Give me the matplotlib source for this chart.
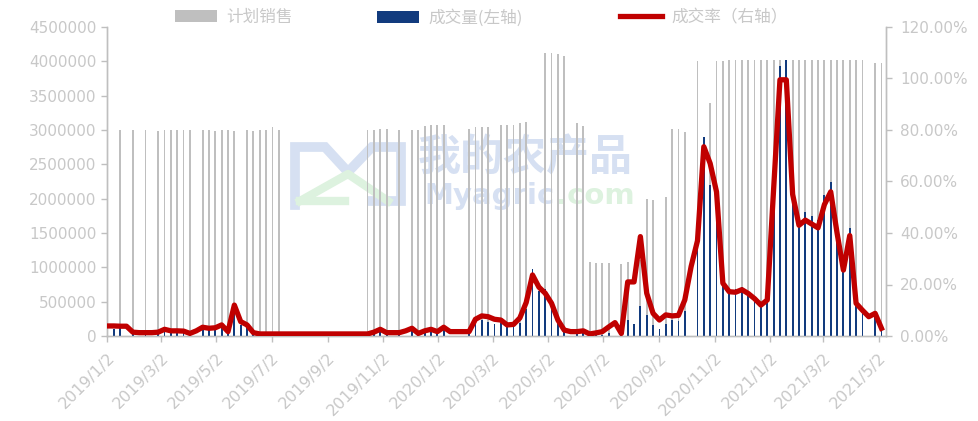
import matplotlib
matplotlib.use("Agg")
import matplotlib.pyplot as plt
import matplotlib.dates as mdates
from matplotlib.patches import Patch
from matplotlib.lines import Line2D
from matplotlib.ticker import FuncFormatter, MultipleLocator
import pandas as pd

# weekly trading sessions (Wednesday)
dates = [
    "2019-01-02", "2019-01-09", "2019-01-16", "2019-01-23", "2019-01-30", "2019-02-06", "2019-02-13",
    "2019-02-20", "2019-02-27", "2019-03-06", "2019-03-13", "2019-03-20", "2019-03-27", "2019-04-03",
    "2019-04-10", "2019-04-17", "2019-04-24", "2019-05-01", "2019-05-08", "2019-05-15", "2019-05-22",
    "2019-05-29", "2019-06-05", "2019-06-12", "2019-06-19", "2019-06-26", "2019-07-03", "2019-07-10",
    "2019-10-16", "2019-10-23", "2019-10-30", "2019-11-06", "2019-11-13", "2019-11-20", "2019-11-27",
    "2019-12-04", "2019-12-11", "2019-12-18", "2019-12-25", "2020-01-01", "2020-01-08", "2020-01-15",
    "2020-01-22", "2020-01-29", "2020-02-05", "2020-02-12", "2020-02-19", "2020-02-26", "2020-03-04",
    "2020-03-11", "2020-03-18", "2020-03-25", "2020-04-01", "2020-04-08", "2020-04-15", "2020-04-22",
    "2020-04-29", "2020-05-06", "2020-05-13", "2020-05-20", "2020-05-27", "2020-06-03", "2020-06-10",
    "2020-06-17", "2020-06-24", "2020-07-01", "2020-07-08", "2020-07-15", "2020-07-22", "2020-07-29",
    "2020-08-05", "2020-08-12", "2020-08-19", "2020-08-26", "2020-09-02", "2020-09-09", "2020-09-16",
    "2020-09-23", "2020-09-30", "2020-10-07", "2020-10-14", "2020-10-21", "2020-10-28", "2020-11-04",
    "2020-11-11", "2020-11-18", "2020-11-25", "2020-12-02", "2020-12-09", "2020-12-16", "2020-12-23",
    "2020-12-30", "2021-01-06", "2021-01-13", "2021-01-20", "2021-01-27", "2021-02-03", "2021-02-10",
    "2021-02-17", "2021-02-24", "2021-03-03", "2021-03-10", "2021-03-17", "2021-03-24", "2021-03-31",
    "2021-04-07", "2021-04-14", "2021-04-21", "2021-04-28", "2021-05-05",
]

# 计划销售 (tons)
plan = [
    3000000, 0, 3000000, 0, 3000000, 0, 3000000,
    0, 2980000, 3000000, 3000000, 3000000, 3000000, 3000000,
    0, 3000000, 3000000, 2980000, 3000000, 3000000, 2980000,
    0, 3000000, 2980000, 3000000, 3000000, 3050000, 3000000,
    3000000, 3000000, 3020000, 3020000, 0, 3000000, 0,
    3000000, 3000000, 3060000, 3080000, 3080000, 3080000, 0,
    0, 0, 3020000, 3050000, 3050000, 3050000, 0,
    3070000, 3070000, 3070000, 3100000, 3120000, 0, 0,
    4120000, 4120000, 4100000, 4080000, 0, 3100000, 3060000,
    1080000, 1070000, 1070000, 1070000, 0, 1050000, 1080000,
    0, 1100000, 2000000, 1980000, 0, 2030000, 3020000,
    3020000, 2970000, 0, 4000000, 0, 3390000, 4000000,
    4000000, 4020000, 4020000, 4020000, 4020000, 4020000, 4020000,
    4020000, 4020000, 4020000, 4020000, 4020000, 4020000, 4020000,
    4020000, 4020000, 4020000, 4020000, 4020000, 4020000, 4020000,
    4020000, 4020000, 0, 3970000, 3970000,
]

# 成交量 (tons)
deal = [
    120000, 100000, 110000, 0, 50000, 0, 40000,
    0, 50000, 80000, 60000, 60000, 60000, 30000,
    0, 100000, 90000, 100000, 130000, 50000, 400000,
    160000, 130000, 40000, 20000, 20000, 20000, 20000,
    20000, 50000, 80000, 40000, 0, 40000, 0,
    90000, 30000, 60000, 80000, 50000, 100000, 0,
    0, 0, 50000, 180000, 240000, 210000, 170000,
    190000, 130000, 140000, 190000, 400000, 970000, 660000,
    680000, 530000, 250000, 90000, 0, 50000, 60000,
    10000, 10000, 20000, 40000, 0, 10000, 230000,
    180000, 430000, 310000, 160000, 100000, 170000, 240000,
    220000, 360000, 0, 1480000, 2900000, 2200000, 2240000,
    820000, 690000, 680000, 720000, 660000, 580000, 480000,
    560000, 2300000, 3930000, 4020000, 2200000, 1730000, 1810000,
    1750000, 1690000, 2050000, 2250000, 1600000, 1030000, 1570000,
    510000, 400000, 0, 350000, 120000,
]

# 成交率 (%)
rate = [
    3.9, 3.9, 3.8, 3.8, 1.5, 1.3, 1.3,
    1.3, 1.5, 2.6, 2.0, 2.0, 1.9, 1.0,
    2.0, 3.4, 3.0, 3.2, 4.3, 1.7, 12.0,
    5.6, 4.3, 1.3, 0.8, 0.8, 0.8, 0.8,
    0.8, 1.5, 2.6, 1.3, 1.3, 1.3, 2.0,
    3.0, 1.0, 2.0, 2.6, 1.7, 3.4, 1.7,
    1.7, 1.7, 1.7, 6.5, 7.8, 7.5, 6.5,
    6.2, 4.3, 4.5, 7.0, 13.0, 23.7, 19.0,
    16.6, 12.7, 6.2, 2.3, 1.7, 1.7, 2.0,
    0.8, 1.2, 1.7, 3.5, 5.2, 1.0, 21.0,
    21.0, 38.6, 16.6, 8.8, 6.2, 8.2, 7.8,
    8.0, 14.0, 27.0, 37.0, 73.5, 67.0, 56.0,
    20.5, 17.2, 17.0, 18.0, 16.5, 14.5, 12.0,
    14.0, 57.0, 99.5, 99.5, 55.0, 43.0, 45.0,
    43.5, 42.0, 51.0, 56.0, 40.0, 25.6, 39.0,
    12.7, 10.0, 7.5, 8.8, 3.0,
]

left_ticks = [0, 500000, 1000000, 1500000, 2000000, 2500000, 3000000, 3500000, 4000000, 4500000]
legend_labels = ["计划销售", "成交量(左轴)", "成交率（右轴）"]

GREY = "#BFBFBF"
NAVY = "#123B7E"
RED = "#C00000"
LABEL = "#C8C8C8"

x = pd.to_datetime(dates)
plan_s = pd.Series(plan, index=x)
deal_s = pd.Series(deal, index=x)
rate_s = pd.Series(rate, index=x) / 100.0

W, H = 979, 421
fig = plt.figure(figsize=(W / 100, H / 100), dpi=100)
ax = fig.add_axes([107 / W, 1 - 336 / H, (886 - 107) / W, (336 - 27) / H])
ax2 = ax.twinx()
ax.patch.set_visible(False)
ax2.patch.set_visible(False)

# faint watermark behind the plot
def px(xp, yp):
    return (xp / W, 1 - yp / H)

wm_blue = "#D6E0F2"
wm_green = "#DDF2DF"
logo = Line2D(*zip(*[px(295, 205), px(295, 147), px(325, 147), px(348, 172), px(372, 147),
                     px(401, 147), px(401, 201), px(372, 201)]),
              transform=fig.transFigure, color=wm_blue, lw=7, solid_joinstyle="miter", zorder=-2)
fig.add_artist(logo)
tri = Line2D(*zip(*[px(300, 201), px(348, 174), px(388, 201)]),
             transform=fig.transFigure, color=wm_green, lw=6, zorder=-2)
fig.add_artist(tri)
base = Line2D(*zip(*[px(300, 201), px(345, 201)]),
              transform=fig.transFigure, color=wm_green, lw=6, zorder=-2)
fig.add_artist(base)
fig.text(418 / W, 1 - 157 / H, "我的农产品", fontsize=31, color=wm_blue, va="center", ha="left",
         family=["Noto Sans CJK SC", "DejaVu Sans"], weight="bold", zorder=-2)
fig.text(424 / W, 1 - 196 / H, "Myagric", fontsize=21, color=wm_blue, va="center", ha="left",
         family="DejaVu Sans", weight="bold", zorder=-2)
fig.text(556 / W, 1 - 196 / H, ".com", fontsize=21, color=wm_green, va="center", ha="left",
         family="DejaVu Sans", weight="bold", zorder=-2)

# bars
bw = 2.0
ax.bar(plan_s.index, plan_s.values, width=bw, color=GREY, zorder=2)
ax.bar(deal_s.index, deal_s.values, width=bw, color=NAVY, zorder=3)

# rate line
ax2.plot(rate_s.index, rate_s.values, color=RED, lw=3.8, solid_joinstyle="round", zorder=4)

ax.set_xlim(pd.Timestamp("2019-01-01 12:00"), pd.Timestamp("2021-05-10"))
ax.set_ylim(0, 4500000)
ax.set_yticks(left_ticks)
ax.yaxis.set_major_formatter(FuncFormatter(lambda v, p: f"{int(v)}"))
ax2.set_ylim(0, 1.2)
ax2.yaxis.set_major_locator(MultipleLocator(0.2))
ax2.yaxis.set_major_formatter(FuncFormatter(lambda v, p: f"{v * 100:.2f}%"))

ax.xaxis.set_major_locator(mdates.MonthLocator(bymonth=[1, 3, 5, 7, 9, 11], bymonthday=2))


def fmt_date(v, p):
    d = mdates.num2date(v)
    return f"{d.year}/{d.month}/{d.day}"


ax.xaxis.set_major_formatter(FuncFormatter(fmt_date))

for a in (ax, ax2):
    a.spines["top"].set_visible(False)
    for s in ("left", "right", "bottom"):
        a.spines[s].set_color(GREY)
        a.spines[s].set_linewidth(1.0)
    a.tick_params(colors=GREY, labelcolor=LABEL, length=4, width=1.0, labelsize=11)

ax2.tick_params(axis="y", pad=6)
ax.tick_params(axis="x", labelsize=11.5, pad=6)
for lbl in ax.get_xticklabels():
    lbl.set_rotation(45)
    lbl.set_ha("right")
    lbl.set_rotation_mode("anchor")

# legend entries placed one by one across the top
handles = [
    Patch(facecolor=GREY, edgecolor="none"),
    Patch(facecolor=NAVY, edgecolor="none"),
    Line2D([0], [0], color=RED, lw=3.8),
]
legend_x = [175, 377, 620]
for h, lab, lx in zip(handles, legend_labels, legend_x):
    leg = fig.legend([h], [lab], loc="upper left", bbox_to_anchor=(lx / W, 1 - 9 / H),
                     frameon=False, handlelength=2.5, handleheight=0.7, handletextpad=0.6,
                     borderpad=0, borderaxespad=0,
                     prop={"family": ["Noto Sans CJK SC", "DejaVu Sans"], "size": 12})
    for t in leg.get_texts():
        t.set_color(LABEL)

fig.savefig("out.png", dpi=100)
